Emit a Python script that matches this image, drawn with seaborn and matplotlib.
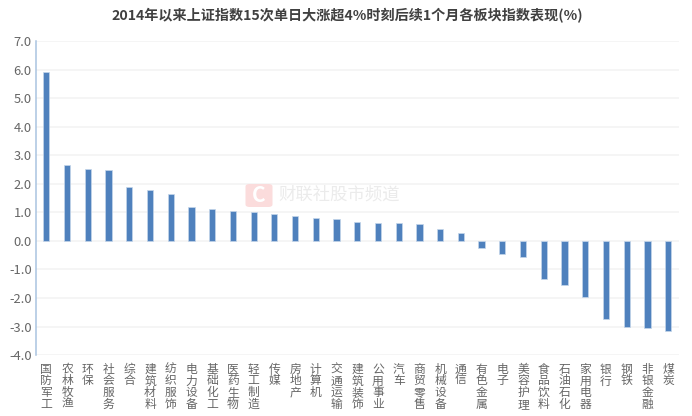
import matplotlib
matplotlib.use('Agg')
import matplotlib.pyplot as plt
from matplotlib.patches import FancyBboxPatch
import pandas as pd
import seaborn as sns

sectors = ['国防军工', '农林牧渔', '环保', '社会服务', '综合', '建筑材料', '纺织服饰', '电力设备',
           '基础化工', '医药生物', '轻工制造', '传媒', '房地产', '计算机', '交通运输', '建筑装饰',
           '公用事业', '汽车', '商贸零售', '机械设备', '通信', '有色金属', '电子', '美容护理',
           '食品饮料', '石油石化', '家用电器', '银行', '钢铁', '非银金融', '煤炭']
returns = [5.92, 2.67, 2.52, 2.49, 1.9, 1.78, 1.65, 1.19, 1.12, 1.05, 1.0, 0.94, 0.87, 0.82, 0.77, 0.67,
           0.64, 0.62, 0.58, 0.42, 0.29, -0.25, -0.47, -0.55, -1.35, -1.55, -1.97, -2.75, -3.03, -3.05, -3.15]
y_ticks = [-4, -3, -2, -1, 0, 1, 2, 3, 4, 5, 6, 7]

W, H = 692, 416
sns.set_theme(style='white')
plt.rcParams['font.family'] = ['Noto Sans CJK SC', 'DejaVu Sans']
plt.rcParams['axes.unicode_minus'] = False

df = pd.DataFrame({'sector': sectors, 'ret': returns})

fig = plt.figure(figsize=(W / 100, H / 100), dpi=100)
# 축 위치는 픽셀 기준으로 맞춤
ax = fig.add_axes([36 / W, 1 - 355 / H, (678.5 - 36) / W, (355 - 41.5) / H])

sns.barplot(data=df, x='sector', y='ret', color='#4f81bd', saturation=1, width=0.3,
            edgecolor='#c5d6ea', linewidth=0.5, ax=ax, zorder=3)

ax.set_xlim(-0.5, len(sectors) - 0.5)
ax.set_ylim(-4, 7)
ax.set_yticks(y_ticks)
ax.set_yticklabels([f'{v:.1f}' for v in y_ticks], fontsize=9.3, color='#666666')
ax.set_xticks(range(len(sectors)))
ax.set_xticklabels(['\n'.join(s) for s in sectors], fontsize=8.5, color='#666666', linespacing=0.88)
ax.tick_params(axis='x', length=0, pad=5.5)
ax.tick_params(axis='y', length=0, pad=3)
ax.set_xlabel('')
ax.set_ylabel('')
ax.grid(axis='y', color='#f2f2f2', linewidth=1.1, zorder=0)
ax.set_axisbelow(True)

for side in ['top', 'right', 'bottom']:
    ax.spines[side].set_visible(False)
ax.spines['left'].set_color('#a9c3e0')
ax.spines['left'].set_linewidth(1.1)

fig.text(347 / W, 1 - 15.5 / H, '2014年以来上证指数15次单日大涨超4%时刻后续1个月各板块指数表现(%)',
         ha='center', va='center', fontsize=10.15, fontweight='bold', color='#404040')

# 워터마크
logo = FancyBboxPatch((245.5 / W, 1 - 207 / H), 27 / W, 23 / H, transform=fig.transFigure,
                      boxstyle='round,pad=0,rounding_size=0.006', facecolor='#fbdcdc',
                      edgecolor='none', zorder=5)
fig.add_artist(logo)
fig.text(259 / W, 1 - 195 / H, 'C', ha='center', va='center', fontsize=15, fontweight='bold',
         color='white', zorder=6)
fig.text(278 / W, 1 - 195 / H, '财联社股市频道', ha='left', va='center', fontsize=12.5,
         color='#ebebeb', zorder=6)

fig.savefig('out.png', dpi=100)
